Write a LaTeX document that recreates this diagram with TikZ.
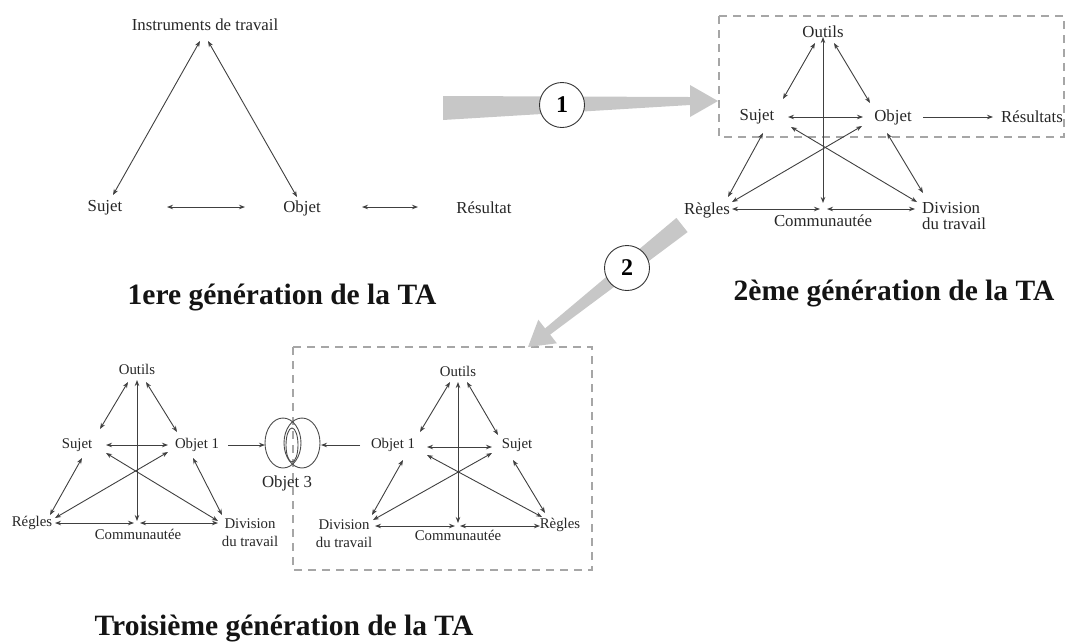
\documentclass[tikz,border=0pt]{standalone}
\usepackage{fontspec}
\setmainfont{Liberation Serif}
\usetikzlibrary{arrows.meta}
\begin{document}
\begin{tikzpicture}[x=1pt,y=-1pt,
 lab/.style={inner sep=0pt, text=black!85, font=\fontsize{16.8}{16}\selectfont},
 labs/.style={inner sep=0pt, text=black!85, font=\fontsize{14.8}{18}\selectfont},
 ttl/.style={inner sep=0pt, text=black!92, font=\fontsize{29.5}{32}\selectfont\bfseries},
 arr/.style={draw=black!75, line width=0.9pt, {Stealth[length=6pt,width=4.5pt]}-{Stealth[length=6pt,width=4.5pt]}},
 arrone/.style={draw=black!75, line width=0.9pt, -{Stealth[length=6pt,width=4.5pt]}},
 dbox/.style={draw=black!35, line width=2pt, dash pattern=on 8pt off 6pt},
 wedge/.style={fill=black!22, draw=none},
 num/.style={circle, draw=black!80, line width=0.9pt, fill=white, minimum size=45pt, inner sep=0pt, font=\fontsize{24}{26}\selectfont\bfseries},
 lens/.style={draw=black!70, line width=0.9pt}
]
\useasboundingbox (0,0) rectangle (1070,641);

% ---------- dashed boxes ----------
\draw[dbox] (719,16) rectangle (1064,137);
\draw[dbox] (293,347) rectangle (592,570);

% ---------- big arrows ----------
\path[wedge] (443,96) -- (690,97) -- (690,85) -- (718,101) -- (690,117) -- (690,105) -- (443,120) -- cycle;
\node[num] (n1) at (562,105) {1};
\path[wedge] (687.6,232.1) -- (550.1,334.6) -- (556.9,343.3) -- (528,347) -- (538.3,319.7) -- (545.1,328.4) -- (676.4,217.9) -- cycle;
\node[num] (n2) at (627,268) {2};

% ---------- generation 1 ----------
\node[lab] (g1i) at (205,25) {Instruments de travail};
\node[lab] (g1s) at (105,208) {Sujet};
\node[lab] (g1o) at (302,208) {Objet};
\node[lab] (g1r) at (484,208) {Résultat};
\coordinate (g1a1) at (200,41); \coordinate (g1a2) at (208,41);
\coordinate (g1sa) at (113,195); \coordinate (g1ob) at (297,197);
\coordinate (g1h1) at (167,207); \coordinate (g1h2) at (245,207);
\coordinate (g1h3) at (362,207); \coordinate (g1h4) at (418,207);
\draw[arr] (g1a1) -- (g1sa);
\draw[arr] (g1a2) -- (g1ob);
\draw[arr] (g1h1) -- (g1h2);
\draw[arr] (g1h3) -- (g1h4);
\node[ttl] (t1) at (282,297) {1ere génération de la TA};

% ---------- generation 2 ----------
\node[lab] (g2out) at (823,32) {Outils};
\node[lab] (g2suj) at (757,117) {Sujet};
\node[lab] (g2obj) at (893,117) {Objet};
\node[lab] (g2res) at (1032,117) {Résultats};
\node[lab] (g2reg) at (707,210) {Règles};
\node[lab] (g2com) at (823,221) {Communautée};
\node[lab, align=left, anchor=west] (g2div) at (922,216) {Division\\du travail};
\coordinate (a1) at (815,43);  \coordinate (b1) at (783,99);
\coordinate (a2) at (834,43);  \coordinate (b2) at (870,103);
\coordinate (a3) at (823,37);  \coordinate (b3) at (823,203);
\coordinate (a4) at (788,117); \coordinate (b4) at (863,117);
\coordinate (a5) at (763,133); \coordinate (b5) at (728,197);
\coordinate (a6) at (887,133); \coordinate (b6) at (923,193);
\coordinate (a7) at (732,202); \coordinate (b7) at (862,126);
\coordinate (a8) at (791,127); \coordinate (b8) at (917,202);
\coordinate (a9) at (732,209); \coordinate (b9) at (820,209);
\coordinate (a10) at (827,209); \coordinate (b10) at (915,209);
\coordinate (a11) at (923,117); \coordinate (b11) at (993,117);
\foreach \i in {1,...,10} {\draw[arr] (a\i) -- (b\i);}
\draw[arrone] (a11) -- (b11);
\node[ttl] (t2) at (894,293) {2ème génération de la TA};

% ---------- generation 3, left ----------
\node[labs] (g3out) at (137,369) {Outils};
\node[labs] (g3suj) at (77,445) {Sujet};
\node[labs] (g3obj) at (197,445) {Objet 1};
\node[labs] (g3reg) at (32,523) {Régles};
\node[labs] (g3com) at (138,534) {Communautée};
\node[labs, align=center] (g3div) at (250,532.5) {Division\\du travail};
\coordinate (c1) at (128,382);  \coordinate (d1) at (100,429);
\coordinate (c2) at (146,382);  \coordinate (d2) at (177,432);
\coordinate (c3) at (137,380);  \coordinate (d3) at (137,521);
\coordinate (c4) at (106,445);  \coordinate (d4) at (168,445);
\coordinate (c5) at (82,458);   \coordinate (d5) at (50,515);
\coordinate (c6) at (193,458);  \coordinate (d6) at (222,515);
\coordinate (c7) at (55,518);   \coordinate (d7) at (168,452);
\coordinate (c8) at (106,453);  \coordinate (d8) at (218,521);
\coordinate (c9) at (55,523);   \coordinate (d9) at (134,523);
\coordinate (c10) at (140,523); \coordinate (d10) at (218,523);
\foreach \i in {1,...,10} {\draw[arr] (c\i) -- (d\i);}

% ---------- Objet 3 ----------
\draw[lens] (283,443) ellipse [x radius=18, y radius=25];
\draw[lens] (302,443) ellipse [x radius=18, y radius=25];
\draw[lens] (292,445) ellipse [x radius=6, y radius=17];
\coordinate (o3l) at (265,445); \coordinate (o3r) at (321,445);
\node[lab] (g3o3) at (287,483) {Objet 3};
\coordinate (e1) at (228,445); \coordinate (e2) at (360,445);
\draw[arrone] (e1) -- (o3l);
\draw[arrone] (e2) -- (o3r);

% ---------- generation 3, right ----------
\node[labs] (g3rout) at (458,371) {Outils};
\node[labs] (g3robj) at (393,445) {Objet 1};
\node[labs] (g3rsuj) at (517,445) {Sujet};
\node[labs, align=center] (g3rdiv) at (344,533.5) {Division\\du travail};
\node[labs] (g3rcom) at (458,535) {Communautée};
\node[labs] (g3rreg) at (560,525) {Règles};
\coordinate (f1) at (450,382);  \coordinate (h1) at (420,432);
\coordinate (f2) at (467,382);  \coordinate (h2) at (498,435);
\coordinate (f3) at (458,382);  \coordinate (h3) at (458,523);
\coordinate (f4) at (427,447);  \coordinate (h4) at (492,447);
\coordinate (f5) at (403,460);  \coordinate (h5) at (372,515);
\coordinate (f6) at (513,460);  \coordinate (h6) at (545,513);
\coordinate (f7) at (373,520);  \coordinate (h7) at (492,453);
\coordinate (f8) at (427,455);  \coordinate (h8) at (542,517);
\coordinate (f9) at (375,526);  \coordinate (h9) at (455,526);
\coordinate (f10) at (460,526); \coordinate (h10) at (540,526);
\foreach \i in {1,...,10} {\draw[arr] (f\i) -- (h\i);}

\node[ttl] (t3) at (284,628) {Troisième génération de la TA};
\end{tikzpicture}
\end{document}
